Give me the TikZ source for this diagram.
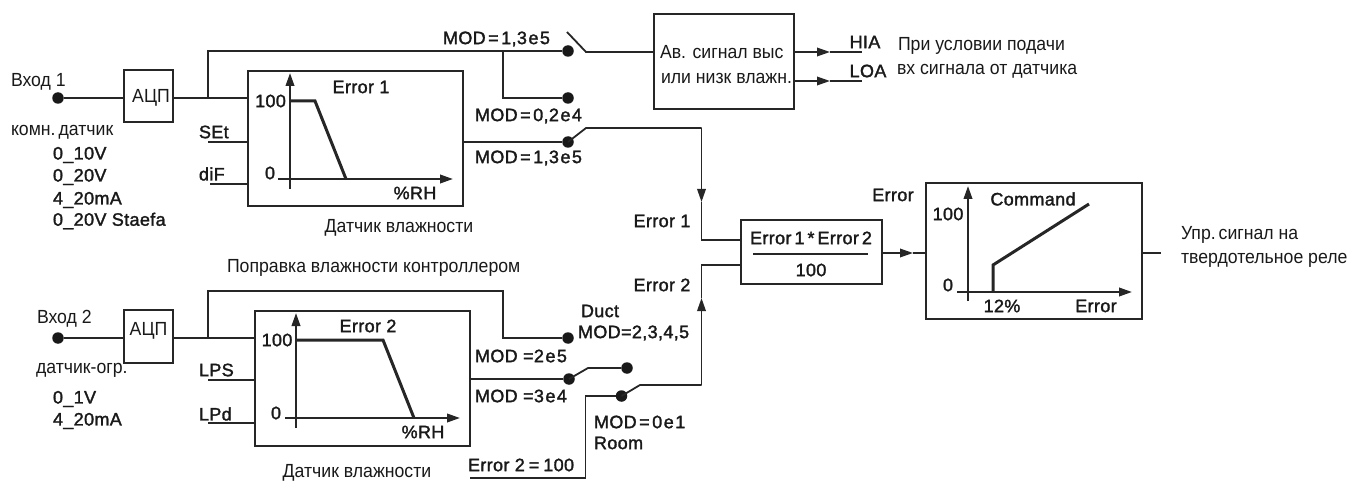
\documentclass[tikz,border=0pt]{standalone}
\usepackage{fontspec}
\usetikzlibrary{arrows.meta}
\setmainfont{Liberation Sans}
\newfontfamily\labf[FakeBold=1.7,LetterSpace=2]{Liberation Sans}
\newfontfamily\cyrf[FakeStretch=0.93]{Liberation Sans}
\newcommand\kq{\kern2.5pt}
\newcommand\kr{\kern1.5pt}
\tikzset{
  x=1pt,y=-1pt,
  line/.style={line width=1.8pt,black!85},
  axis line/.style={line width=2.2pt,black!85},
  thick line/.style={line width=3pt,black!85},
  box/.style={draw=black!85,line width=2.2pt,inner sep=0,outer sep=0,fill=none},
  dotn/.style={circle,fill=black!90,inner sep=0,minimum size=11.5pt,outer sep=0},
  lab/.style={inner sep=0,outer sep=0,font=\labf\fontsize{18}{18}\selectfont,text=black!90},
  cyr/.style={inner sep=0,outer sep=0,font=\cyrf\fontsize{19}{19}\selectfont,text=black!90},
  tip/.style={-{Triangle[length=13pt,width=8.5pt]}},
  wl/.style={anchor=west},
}
\begin{document}
\begin{tikzpicture}
\useasboundingbox (0,0) rectangle (1349,481);
% ---- boxes
\node[box,minimum width=49pt,minimum height=52pt] (adc1) at (148.5,96) {};
\node[box,minimum width=49pt,minimum height=53pt] (adc2) at (148.5,336.5) {};
\node[box,minimum width=215pt,minimum height=135pt] (err1) at (355.5,138.5) {};
\node[box,minimum width=215pt,minimum height=135pt] (err2) at (362.5,378.5) {};
\node[box,minimum width=140pt,minimum height=95pt] (alarm) at (724,61.5) {};
\node[box,minimum width=141pt,minimum height=64pt] (prod) at (811.5,252) {};
\node[box,minimum width=216pt,minimum height=136pt] (cmd) at (1034,251) {};
% ---- terminals
\node[dotn] (in1) at (58,98) {};
\node[dotn] (in2) at (58,338) {};
\node[dotn] (a1) at (568,51) {};
\node[dotn] (a2) at (568,98) {};
\node[dotn] (s1) at (568,142) {};
\node[dotn] (d1) at (568,338) {};
\node[dotn] (s2) at (569,379) {};
\node[dotn] (s3) at (627,368) {};
\node[dotn] (s4) at (621.5,396) {};
% ---- named bends
\coordinate (j1) at (208,98);
\coordinate (j2) at (208,338);
\coordinate (j3) at (503,51);
\coordinate (sw1a) at (567,32);
\coordinate (sw1b) at (586,52);
\coordinate (sw2) at (586,128);
\coordinate (e1tip) at (701.5,202);
\coordinate (sw3) at (588,368);
\coordinate (sw4) at (640,385);
\coordinate (e2tip) at (701.5,298);
\coordinate (low) at (470,478);
\coordinate (lowc) at (585.5,478);
\coordinate (hiae) at (862,52);
\coordinate (loae) at (862,81);
\coordinate (hiat) at (830,52);
\coordinate (loat) at (830,81);
\coordinate (prodt) at (913,253);
\coordinate (outend) at (1161,253);
\coordinate (sete) at (208,142);
\coordinate (dife) at (210,184);
\coordinate (lpse) at (208,380);
\coordinate (lpde) at (208,423);
% ---- connectors, upper channel
\draw[line] (in1) -- (in1 -| adc1.west);
\draw[line] (in1 -| adc1.east) -- (in1 -| err1.west);
\draw[line] (j1) |- (a1);
\draw[line] (j3) |- (a2);
\draw[line] (sw1a) -- (sw1b) -- (sw1b -| alarm.west);
\draw[line] (sete) -- (sete -| err1.west);
\draw[line] (dife) -- (dife -| err1.west);
\draw[line] (s1 -| err1.east) -- (s1);
\draw[line] (s1.center) -- (sw2) -- (sw2 -| e1tip);
\draw[line,tip] (sw2 -| e1tip) -- (e1tip);
\draw[line] (e1tip) |- (prod.west |- 0,240);
% ---- connectors, lower channel
\draw[line] (in2) -- (in2 -| adc2.west);
\draw[line] (in2 -| adc2.east) -- (in2 -| err2.west);
\draw[line] (j2) -- (208,291) -- (503,291) |- (d1);
\draw[line] (lpse) -- (lpse -| err2.west);
\draw[line] (lpde) -- (lpde -| err2.west);
\draw[line] (s2 -| err2.east) -- (s2);
\draw[line] (s2.center) -- (sw3) -- (s3);
\draw[line] (low) -- (lowc) |- (s4);
\draw[line] (s4.center) -- (sw4) -- (sw4 -| e2tip);
\draw[line,tip] (sw4 -| e2tip) -- (e2tip);
\draw[line] (e2tip) |- (prod.west |- 0,265);
% ---- connectors, outputs
\draw[line,tip] (hiae -| alarm.east) -- (hiat);
\draw[line] (hiat) -- (hiae);
\draw[line,tip] (loae -| alarm.east) -- (loat);
\draw[line] (loat) -- (loae);
\draw[line,tip] (prodt -| prod.east) -- (prodt);
\draw[line] (prodt) -- (prodt -| cmd.west);
\draw[line] (outend -| cmd.east) -- (outend);
\draw[line] (753,254) -- (868,254);
% ---- graph Error 1
\draw[axis line,tip] (290,189) -- (290,73);
\draw[axis line,tip] (278,179) -- (453,179);
\draw[thick line] (290,101) -- (315,101) -- (346,179);
% ---- graph Error 2
\draw[axis line,tip] (296,428) -- (296,313);
\draw[axis line,tip] (285,418) -- (460,418);
\draw[thick line] (296,340) -- (383,340) -- (414,418);
% ---- graph Command
\draw[axis line,tip] (968,301) -- (968,186);
\draw[axis line,tip] (957,292) -- (1132,292);
\draw[thick line] (993,292) -- (993,265) -- (1089,204);
% ---- regular text
\node[cyr,wl] (t1) at (11,82) {Вход 1};
\node[cyr,wl] (t2) at (11,132) {комн.\kern3pt датчик};
\node[cyr,wl] (t3) at (37,319) {Вход 2};
\node[cyr,wl] (t4) at (36,370) {датчик-огр.};
\node[cyr] (t5) at (151,98) {АЦП};
\node[cyr] (t6) at (148.5,331) {АЦП};
\node[cyr] (t7) at (399,228) {Датчик влажности};
\node[cyr] (t8) at (357,473) {Датчик влажности};
\node[cyr,wl] (t9) at (227,268) {Поправка влажности контроллером};
\node[cyr,wl] (t10) at (660,52) {Ав. сигнал выс};
\node[cyr,wl] (t11) at (661,78) {или низк влажн.};
\node[cyr,wl] (t12) at (898,46) {При условии подачи};
\node[cyr,wl] (t13) at (897,71) {вх сигнала от датчика};
\node[cyr,wl] (t14) at (1181,235) {Упр.\kern3pt сигнал на};
\node[cyr,wl] (t15) at (1181,260) {твердотельное реле};
% ---- technical labels
\node[lab,wl] (l1) at (53,155) {0\_10V};
\node[lab,wl] (l2) at (53,177) {0\_20V};
\node[lab,wl] (l3) at (53,200) {4\_20mA};
\node[lab,wl] (l4) at (53,221) {0\_20V Staefa};
\node[lab,wl] (l5) at (53,399) {0\_1V};
\node[lab,wl] (l6) at (53,421) {4\_20mA};
\node[lab,wl] (l7) at (199,132) {SEt};
\node[lab,wl] (l8) at (199,174) {diF};
\node[lab,wl] (l9) at (199,370) {LPS};
\node[lab,wl] (l10) at (199,414) {LPd};
\node[lab] (l11) at (270.5,101) {100};
\node[lab] (l12) at (270,173) {0};
\node[lab] (l13) at (361,87) {Error 1};
\node[lab] (l14) at (415,193) {\%RH};
\node[lab] (l15) at (277,340) {100};
\node[lab] (l16) at (276,413) {0};
\node[lab] (l17) at (368,326) {Error 2};
\node[lab] (l18) at (423,432) {\%RH};
\node[lab,wl] (l19) at (443,39) {MOD\kq=\kq1,3\kr e\kr5};
\node[lab,wl] (l20) at (475,116) {MOD\kq=\kq0,2\kr e\kr4};
\node[lab,wl] (l21) at (475,158) {MOD\kq=\kq1,3\kr e\kr5};
\node[lab,wl] (l22) at (475,356) {MOD =2\kr e\kr5};
\node[lab,wl] (l23) at (475,396) {MOD =3\kr e\kr4};
\node[lab] (l24) at (600,311) {Duct};
\node[lab,wl] (l25) at (578,333) {MOD=2,3,4,5};
\node[lab,wl] (l26) at (594,422) {MOD\kq=\kq0\kr e\kr1};
\node[lab,wl] (l27) at (594,443) {Room};
\node[lab,wl] (l28) at (468,465) {Error 2\kern4pt=\kern4pt100};
\node[lab] (l29) at (662,221) {Error 1};
\node[lab] (l30) at (662,285) {Error 2};
\node[lab] (l31) at (811,238) {Error\kern3pt1\kern3pt*\kern3ptError\kern3pt2};
\node[lab] (l32) at (811,270) {100};
\node[lab] (l33) at (893,195) {Error};
\node[lab] (l34) at (865,42) {HIA};
\node[lab] (l35) at (868,71) {LOA};
\node[lab] (l36) at (1033,199) {Command};
\node[lab] (l37) at (948,214) {100};
\node[lab] (l38) at (948,285) {0};
\node[lab] (l39) at (1002,306) {12\%};
\node[lab] (l40) at (1096,306) {Error};
\end{tikzpicture}
\end{document}
